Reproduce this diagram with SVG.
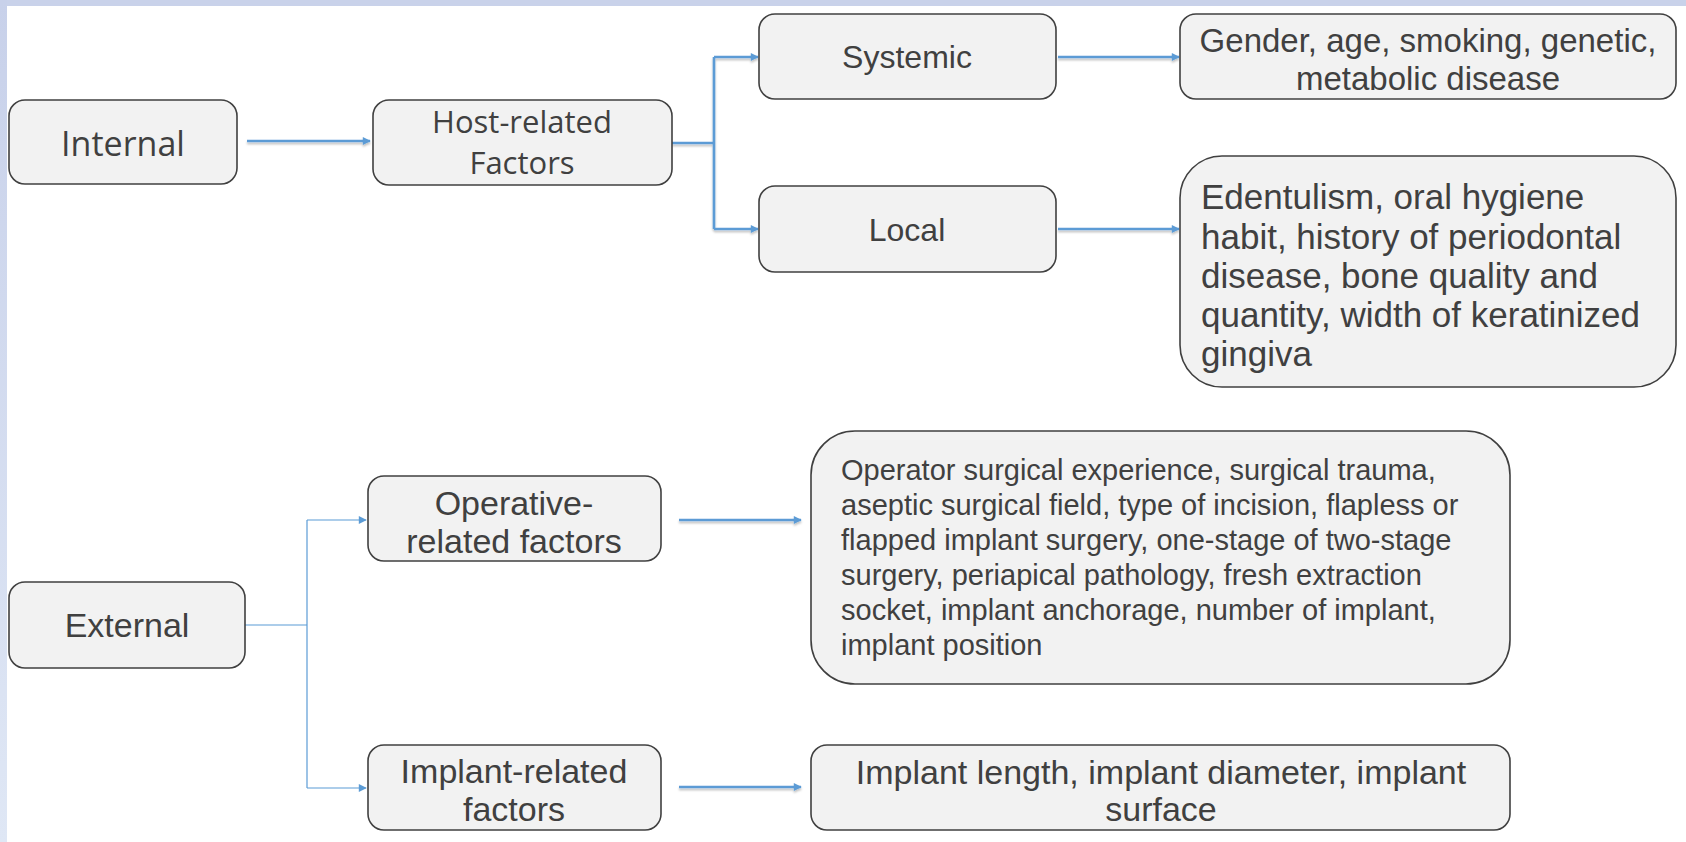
<svg xmlns="http://www.w3.org/2000/svg" width="1686" height="842" viewBox="0 0 1686 842">
<defs>
<style>
.box{fill:#f2f2f2;stroke:#404040;stroke-width:1.6}
.t{font-family:"Liberation Sans",Arial,sans-serif;fill:#404040}
.o{font-family:"Open Sans","Noto Sans",sans-serif;fill:#404040}
.c{text-anchor:middle}
.l35{font-size:34px}
.w{fill:none;stroke:#5b9bd5;stroke-width:2.6}
.n{fill:none;stroke:#5b9bd5;stroke-width:1.2}
</style>
<linearGradient id="side" x1="0" y1="0" x2="0" y2="1"><stop offset="0" stop-color="#c8d1ea"/><stop offset="1" stop-color="#dfe7f5"/></linearGradient>
<marker id="ah" viewBox="0 0 10 10" refX="9" refY="5" markerWidth="9" markerHeight="8" markerUnits="userSpaceOnUse" orient="auto"><path d="M0,0 L10,5 L0,10 z" fill="#5b9bd5"/></marker>
<filter id="sh" x="-5%" y="-50%" width="110%" height="200%"><feDropShadow dx="0" dy="2" stdDeviation="1.2" flood-color="#000" flood-opacity="0.25"/></filter>
</defs>
<rect width="1686" height="842" fill="#ffffff"/>
<rect x="0" y="0" width="1686" height="6" fill="#c9d2ea"/>
<rect x="0" y="0" width="7" height="842" fill="url(#side)"/>

<g id="connectors">
<g filter="url(#sh)">
<line class="w" x1="247" y1="141" x2="370" y2="141" marker-end="url(#ah)"/>
<polyline class="w" points="672,143 714,143"/>
<polyline class="w" points="714,57 714,229"/>
<line class="w" x1="714" y1="57" x2="758" y2="57" marker-end="url(#ah)"/>
<line class="w" x1="714" y1="229" x2="758" y2="229" marker-end="url(#ah)"/>
<line class="w" x1="1058" y1="57" x2="1179" y2="57" marker-end="url(#ah)"/>
<line class="w" x1="1058" y1="229" x2="1179" y2="229" marker-end="url(#ah)"/>
<line class="w" x1="679" y1="520" x2="801" y2="520" marker-end="url(#ah)"/>
<line class="w" x1="679" y1="787" x2="801" y2="787" marker-end="url(#ah)"/>
</g>
<polyline class="n" points="245,625 307,625"/>
<polyline class="n" points="307,520 307,788"/>
<line class="n" x1="307" y1="520" x2="366" y2="520" marker-end="url(#ah)"/>
<line class="n" x1="307" y1="788" x2="366" y2="788" marker-end="url(#ah)"/>
</g>

<g id="internal"><rect class="box" x="9" y="100" width="228" height="84" rx="16"/><text class="o c" font-size="34" x="123" y="156">Internal</text></g>
<g id="host"><rect class="box" x="373" y="100" width="299" height="85" rx="16"/><text class="o c" font-size="31" x="522" y="133">Host-related</text><text class="o c" font-size="31" x="522" y="174">Factors</text></g>
<g id="systemic"><rect class="box" x="759" y="14" width="297" height="85" rx="16"/><text class="t c" font-size="32" x="907" y="68">Systemic</text></g>
<g id="local"><rect class="box" x="759" y="186" width="297" height="86" rx="16"/><text class="t c" font-size="32" x="907" y="241">Local</text></g>
<g id="systemic-factors"><rect class="box" x="1180" y="14" width="496" height="85" rx="16"/><text class="t c" font-size="33" x="1428" y="52">Gender, age, smoking, genetic,</text><text class="t c" font-size="33" x="1428" y="90">metabolic disease</text></g>
<g id="local-factors"><rect class="box" x="1180" y="156" width="496" height="231" rx="42"/>
<text class="t" font-size="35" x="1201" y="209">Edentulism, oral hygiene</text>
<text class="t" font-size="35" x="1201" y="249">habit, history of periodontal</text>
<text class="t" font-size="35" x="1201" y="288">disease, bone quality and</text>
<text class="t" font-size="35" x="1201" y="327">quantity, width of keratinized</text>
<text class="t" font-size="35" x="1201" y="366">gingiva</text></g>
<g id="external"><rect class="box" x="9" y="582" width="236" height="86" rx="16"/><text class="t c l35" x="127" y="637">External</text></g>
<g id="operative"><rect class="box" x="368" y="476" width="293" height="85" rx="16"/><text class="t c l35" x="514" y="515">Operative-</text><text class="t c l35" x="514" y="553">related factors</text></g>
<g id="implant"><rect class="box" x="368" y="745" width="293" height="85" rx="16"/><text class="t c l35" x="514" y="783">Implant-related</text><text class="t c l35" x="514" y="821">factors</text></g>
<g id="operative-factors"><rect class="box" x="811" y="431" width="699" height="253" rx="44"/>
<text class="t" font-size="29" x="841" y="480">Operator surgical experience, surgical trauma,</text>
<text class="t" font-size="29" x="841" y="515">aseptic surgical field, type of incision, flapless or</text>
<text class="t" font-size="29" x="841" y="550">flapped implant surgery, one-stage of two-stage</text>
<text class="t" font-size="29" x="841" y="585">surgery, periapical pathology, fresh extraction</text>
<text class="t" font-size="29" x="841" y="620">socket, implant anchorage, number of implant,</text>
<text class="t" font-size="29" x="841" y="655">implant position</text></g>
<g id="implant-factors"><rect class="box" x="811" y="745" width="699" height="85" rx="16"/><text class="t c" font-size="34" x="1161" y="784">Implant length, implant diameter, implant</text><text class="t c" font-size="34" x="1161" y="821">surface</text></g>
</svg>
